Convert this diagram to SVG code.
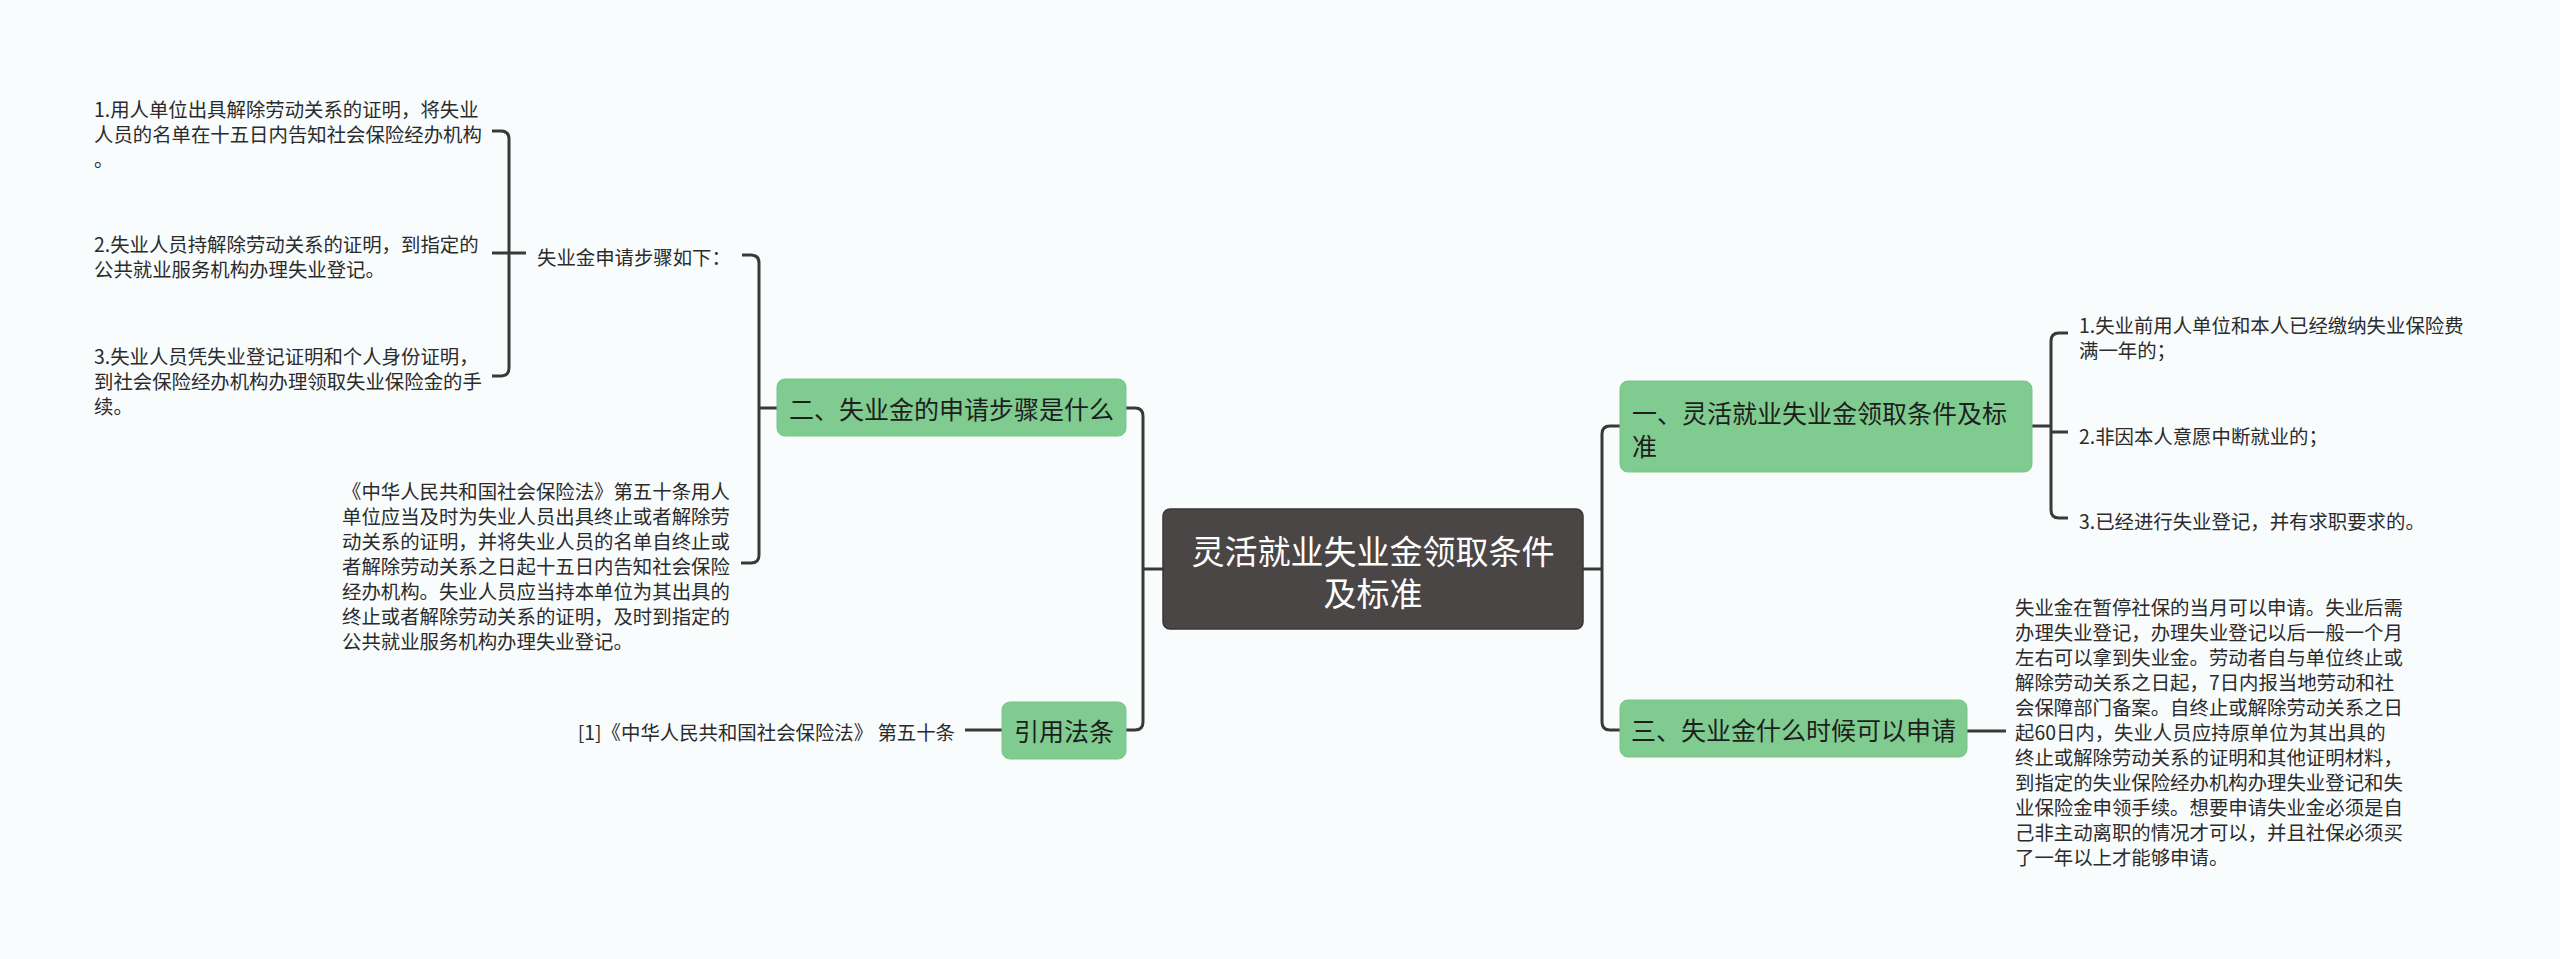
<svg xmlns="http://www.w3.org/2000/svg" width="2560" height="959" viewBox="0 0 2560 959">
<style>
.bg{fill:#f9fcfd}
.ln{fill:none;stroke:#3b3838;stroke-width:3;stroke-linecap:butt;stroke-linejoin:round}
.g{fill:#80cc90;stroke:#78c488;stroke-width:1}
.c{fill:#4b4646;stroke:#3a3636;stroke-width:1.5}
.t{font-family:"Noto Sans CJK SC","Noto Sans",sans-serif;font-size:19.4px;fill:#2b2b2b;dominant-baseline:central}
.n{font-family:"Noto Sans CJK SC","Noto Sans",sans-serif;font-size:25px;fill:#1e1e1e;dominant-baseline:central}
.m{font-family:"Noto Sans CJK SC","Noto Sans",sans-serif;font-size:33px;fill:#ffffff;dominant-baseline:central;text-anchor:middle}
</style>
<rect class="bg" x="0" y="0" width="2560" height="959"/>
<g id="connectors">
<path class="ln" d="M1163 569 H1143"/>
<path class="ln" d="M1126 408 H1135 Q1143 408 1143 416 V722 Q1143 730 1135 730 H1126"/>
<path class="ln" d="M1583 569 H1602"/>
<path class="ln" d="M1620 426 H1610 Q1602 426 1602 434 V722 Q1602 730 1610 730 H1620"/>
<path class="ln" d="M742 255 H751 Q759 255 759 263 V555 Q759 563 751 563 H741"/>
<path class="ln" d="M759 408 H777"/>
<path class="ln" d="M492 131 H501 Q509 131 509 139 V368 Q509 376 501 376 H492"/>
<path class="ln" d="M492 253 H526"/>
<path class="ln" d="M2032 426 H2051"/>
<path class="ln" d="M2068 333 H2059 Q2051 333 2051 341 V510 Q2051 518 2059 518 H2068"/>
<path class="ln" d="M2051 432 H2068"/>
<path class="ln" d="M1967 731 H2006"/>
<path class="ln" d="M1002 730 H965"/>
</g>
<g id="center">
<rect class="c" x="1163" y="509" width="420" height="120" rx="7"/>
<text class="m" x="1373" y="550">灵活就业失业金领取条件</text>
<text class="m" x="1373" y="592">及标准</text>
</g>
<g id="node-2">
<rect class="g" x="777" y="379" width="349" height="57" rx="8"/>
<text class="n" x="951.5" y="408" text-anchor="middle">二、失业金的申请步骤是什么</text>
</g>
<g id="node-law">
<rect class="g" x="1002" y="702" width="124" height="57" rx="8"/>
<text class="n" x="1064" y="730" text-anchor="middle">引用法条</text>
</g>
<g id="node-1">
<rect class="g" x="1620" y="381" width="412" height="91" rx="8"/>
<text class="n" x="1632" y="412">一、灵活就业失业金领取条件及标</text>
<text class="n" x="1632" y="445">准</text>
</g>
<g id="node-3">
<rect class="g" x="1620" y="700" width="347" height="57" rx="8"/>
<text class="n" x="1793.5" y="729" text-anchor="middle">三、失业金什么时候可以申请</text>
</g>
<g id="steps-label">
<text class="t" x="537" y="256">失业金申请步骤如下：</text>
</g>
<g id="step-1">
<text class="t" x="94" y="108">1.用人单位出具解除劳动关系的证明，将失业</text>
<text class="t" x="94" y="133">人员的名单在十五日内告知社会保险经办机构</text>
<text class="t" x="94" y="158">。</text>
</g>
<g id="step-2">
<text class="t" x="94" y="243">2.失业人员持解除劳动关系的证明，到指定的</text>
<text class="t" x="94" y="268">公共就业服务机构办理失业登记。</text>
</g>
<g id="step-3">
<text class="t" x="94" y="355">3.失业人员凭失业登记证明和个人身份证明，</text>
<text class="t" x="94" y="380">到社会保险经办机构办理领取失业保险金的手</text>
<text class="t" x="94" y="405">续。</text>
</g>
<g id="law-text">
<text class="t" x="342" y="490">《中华人民共和国社会保险法》第五十条用人</text>
<text class="t" x="342" y="515">单位应当及时为失业人员出具终止或者解除劳</text>
<text class="t" x="342" y="540">动关系的证明，并将失业人员的名单自终止或</text>
<text class="t" x="342" y="565">者解除劳动关系之日起十五日内告知社会保险</text>
<text class="t" x="342" y="590">经办机构。失业人员应当持本单位为其出具的</text>
<text class="t" x="342" y="615">终止或者解除劳动关系的证明，及时到指定的</text>
<text class="t" x="342" y="640">公共就业服务机构办理失业登记。</text>
</g>
<g id="law-ref">
<text class="t" x="955" y="731" text-anchor="end">[1]《中华人民共和国社会保险法》 第五十条</text>
</g>
<g id="cond-1">
<text class="t" x="2079" y="324">1.失业前用人单位和本人已经缴纳失业保险费</text>
<text class="t" x="2079" y="349">满一年的；</text>
</g>
<g id="cond-2">
<text class="t" x="2079" y="435">2.非因本人意愿中断就业的；</text>
</g>
<g id="cond-3">
<text class="t" x="2079" y="520">3.已经进行失业登记，并有求职要求的。</text>
</g>
<g id="when-text">
<text class="t" x="2015" y="606">失业金在暂停社保的当月可以申请。失业后需</text>
<text class="t" x="2015" y="631">办理失业登记，办理失业登记以后一般一个月</text>
<text class="t" x="2015" y="656">左右可以拿到失业金。劳动者自与单位终止或</text>
<text class="t" x="2015" y="681">解除劳动关系之日起，7日内报当地劳动和社</text>
<text class="t" x="2015" y="706">会保障部门备案。自终止或解除劳动关系之日</text>
<text class="t" x="2015" y="731">起60日内，失业人员应持原单位为其出具的</text>
<text class="t" x="2015" y="756">终止或解除劳动关系的证明和其他证明材料，</text>
<text class="t" x="2015" y="781">到指定的失业保险经办机构办理失业登记和失</text>
<text class="t" x="2015" y="806">业保险金申领手续。想要申请失业金必须是自</text>
<text class="t" x="2015" y="831">己非主动离职的情况才可以，并且社保必须买</text>
<text class="t" x="2015" y="856">了一年以上才能够申请。</text>
</g>
</svg>
